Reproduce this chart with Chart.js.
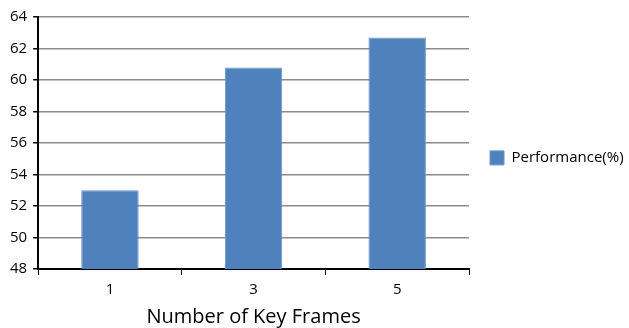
<!DOCTYPE html>
<html>
<head>
<meta charset="utf-8">
<script src="https://cdn.jsdelivr.net/npm/chart.js@4/dist/chart.umd.min.js"></script>
<style>
  html, body { margin: 0; padding: 0; background: #fff; }
  #wrap { width: 629px; height: 328px; }
</style>
</head>
<body>
<div id="wrap"><canvas id="chart" width="629" height="328"></canvas></div>
<script>
// values
const keyFrames = ['1', '3', '5'];
const performance = [53.0, 60.8, 62.7];
const yTicks = [48, 50, 52, 54, 56, 58, 60, 62, 64];

const fontFamily = "'Open Sans', 'DejaVu Sans', sans-serif";

const ctx = document.getElementById('chart').getContext('2d');
new Chart(ctx, {
    type: 'bar',
    data: {
        labels: keyFrames,
        datasets: [{
            label: 'Performance(%)',
            data: performance,
            backgroundColor: '#4f81bd',
            borderColor: '#6a94c8',
            borderWidth: 1,
            categoryPercentage: 1,
            barPercentage: 0.4
        }]
    },
    options: {
        responsive: false,
        animation: false,
        layout: { padding: { top: 17, left: 4, right: 5, bottom: 1 } },
        plugins: {
            tooltip: { enabled: false },
            legend: {
                position: 'right',
                align: 'start',
                // blank title only used to push the entry down to its spot
                title: { display: true, text: ' ', padding: { top: 98, bottom: 0 }, font: { size: 12 } },
                labels: {
                    boxWidth: 14,
                    boxHeight: 14,
                    padding: 21,
                    color: '#000',
                    font: { family: fontFamily, size: 15 }
                }
            }
        },
        scales: {
            x: {
                offset: true,
                grid: {
                    offset: true,
                    drawOnChartArea: false,
                    drawTicks: true,
                    tickLength: 6,
                    tickColor: '#000',
                    tickWidth: 1
                },
                border: { color: '#000', width: 2 },
                ticks: { color: '#000', padding: 6, font: { family: fontFamily, size: 15 } },
                title: {
                    display: true,
                    text: 'Number of Key Frames',
                    color: '#000',
                    padding: { top: 2, bottom: 0 },
                    font: { family: fontFamily, size: 20, lineHeight: 1 }
                }
            },
            y: {
                min: yTicks[0],
                max: yTicks[yTicks.length - 1],
                afterBuildTicks: axis => { axis.ticks = yTicks.map(v => ({ value: v })); },
                grid: {
                    color: '#8c8c8c',
                    lineWidth: 1.5,
                    drawTicks: true,
                    tickLength: 5,
                    tickColor: '#000'
                },
                border: { color: '#000', width: 2 },
                ticks: { color: '#000', padding: 6, font: { family: fontFamily, size: 15 } }
            }
        }
    }
});
</script>
</body>
</html>
